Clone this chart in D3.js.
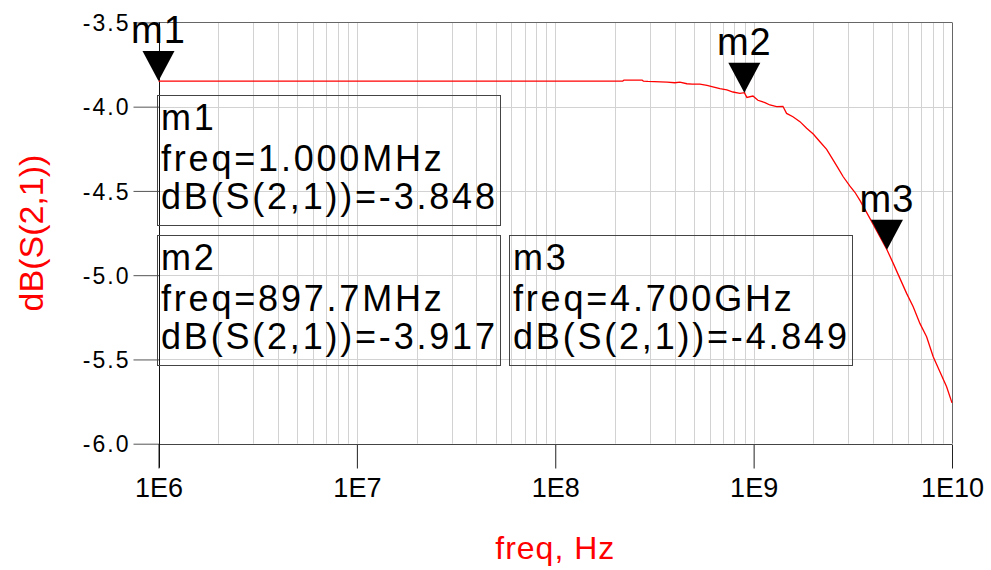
<!DOCTYPE html>
<html>
<head>
<meta charset="utf-8">
<script src="https://cdn.jsdelivr.net/npm/d3@7"></script>
<style>
  html, body { margin: 0; padding: 0; background: #fff; }
  svg { display: block; font-family: "Liberation Sans", Arial, sans-serif; }
</style>
</head>
<body>
<svg id="chart" width="991" height="570"></svg>
<script>
// ---- data ----
const freqHz = [1e6, 1.056e8, 2.19e8, 2.22e8, 2.74e8, 2.78e8, 2.93e8, 3.66e8, 4.01e8, 4.25e8,
  4.61e8, 4.89e8, 5.36e8, 5.82e8, 6.23e8, 6.76e8, 7.33e8, 7.87e8, 8.53e8, 8.977e8,
  9.25e8, 9.92e8, 1.051e9, 1.14e9, 1.208e9, 1.306e9, 1.405e9, 1.466e9, 1.578e9, 1.712e9,
  1.85e9, 1.998e9, 2.159e9, 2.334e9, 2.519e9, 2.67e9, 2.829e9, 3.058e9, 3.24e9, 3.435e9,
  3.856e9, 4.332e9, 4.7e9, 5.055e9, 5.463e9, 5.904e9, 6.374e9, 6.889e9, 7.447e9, 8.041e9,
  8.69e9, 9.394e9, 1e10];
const s21dB = [-3.848, -3.848, -3.848, -3.842, -3.842, -3.848, -3.850, -3.854, -3.858, -3.854,
  -3.864, -3.866, -3.866, -3.874, -3.882, -3.893, -3.901, -3.913, -3.921, -3.917,
  -3.945, -3.937, -3.962, -3.976, -3.990, -4.000, -3.998, -4.040, -4.060, -4.089,
  -4.128, -4.162, -4.208, -4.253, -4.317, -4.366, -4.416, -4.472, -4.508, -4.556,
  -4.663, -4.772, -4.849, -4.930, -5.019, -5.108, -5.187, -5.286, -5.365, -5.484,
  -5.573, -5.662, -5.758];

const markerNames = ["m1", "m2", "m3"];
const markerFreq = [1e6, 897.7e6, 4.7e9];
const markerDB = [-3.848, -3.917, -4.849];
const markerUnit = ["MHz", "MHz", "GHz"];
const markerUnitDiv = [1e6, 1e6, 1e9];

const yTicks = [-3.5, -4.0, -4.5, -5.0, -5.5, -6.0];
const xTicks = [1e6, 1e7, 1e8, 1e9, 1e10];
const xTickLabels = ["1E6", "1E7", "1E8", "1E9", "1E10"];
const xTitle = "freq, Hz";
const yTitle = "dB(S(2,1))";

// ---- layout ----
const L = 158.5, R = 952, T = 22.4, B = 443.7;
const svg = d3.select("#chart");
const x = d3.scaleLog().domain([1e6, 1e10]).range([L, R]);
const y = d3.scaleLinear().domain([-3.5, -6.0]).range([T, B]);
const hy = s => s.replace(/\u2212/g, "-");
const f1 = d => hy(d3.format(".1f")(d));
const f3 = d => hy(d3.format(".3f")(d));
const f4 = d3.format(".4r");

// grid
const minor = [];
for (let e = 6; e < 10; e++) for (let m = 1; m <= 9; m++) minor.push(m * Math.pow(10, e));
const grid = svg.append("g").attr("stroke", "#d2d2d2").attr("stroke-width", 1);
grid.selectAll("line.v").data(minor.filter(d => d > 1e6)).join("line")
  .attr("x1", d => Math.round(x(d)) + 0.5).attr("x2", d => Math.round(x(d)) + 0.5)
  .attr("y1", T).attr("y2", B);
grid.selectAll("line.h").data(yTicks.filter(d => d > -6 && d < -3.5)).join("line")
  .attr("class", "h")
  .attr("x1", L).attr("x2", R)
  .attr("y1", d => Math.round(y(d)) + 0.5).attr("y2", d => Math.round(y(d)) + 0.5);

// top + right borders
svg.append("line").attr("x1", L).attr("x2", R).attr("y1", Math.round(T) + 0.5).attr("y2", Math.round(T) + 0.5)
  .attr("stroke", "#666");
svg.append("line").attr("x1", Math.round(R) + 0.5).attr("x2", Math.round(R) + 0.5).attr("y1", T).attr("y2", B)
  .attr("stroke", "#666");

// y axis
const yAxis = svg.append("g").attr("transform", `translate(${Math.round(L) + 0.5},0)`)
  .call(d3.axisLeft(y).tickValues(yTicks).tickSize(26).tickPadding(0).tickFormat(f1));
yAxis.select(".domain").remove();
yAxis.selectAll(".tick line").attr("stroke", "#555");
yAxis.selectAll(".tick text").attr("x", -29).attr("dy", "0.36em")
  .attr("fill", "#000").attr("font-size", 23).attr("letter-spacing", "2px")
  .attr("font-family", "Liberation Sans, Arial, sans-serif");

// x axis
const xAxis = svg.append("g").attr("transform", `translate(0,${Math.round(B) + 0.5})`)
  .call(d3.axisBottom(x).tickValues(xTicks).tickSize(24).tickPadding(0)
    .tickFormat((d, i) => xTickLabels[i]));
xAxis.select(".domain").remove();
xAxis.selectAll(".tick line").attr("stroke", "#222");
xAxis.selectAll(".tick text").attr("y", 52).attr("dy", 0)
  .attr("fill", "#000").attr("font-size", 27)
  .attr("font-family", "Liberation Sans, Arial, sans-serif");
svg.append("line").attr("x1", L).attr("x2", R).attr("y1", Math.round(B) + 0.5).attr("y2", Math.round(B) + 0.5)
  .attr("stroke", "#444");
svg.append("line").attr("x1", Math.round(L) + 0.5).attr("x2", Math.round(L) + 0.5)
  .attr("y1", T).attr("y2", B + 24).attr("stroke", "#111");

// titles
svg.append("text").attr("x", (L + R) / 2).attr("y", 559).attr("text-anchor", "middle")
  .attr("fill", "#ff0000").attr("font-size", 32).attr("letter-spacing", "1px").text(xTitle);
svg.append("text").attr("transform", `translate(43,${(T + B) / 2}) rotate(-90)`)
  .attr("text-anchor", "middle").attr("fill", "#ff0000").attr("font-size", 34).text(yTitle);

// curve
const pts = freqHz.map((f, i) => [f, s21dB[i]]);
svg.append("path").datum(pts)
  .attr("fill", "none").attr("stroke", "#ff0000").attr("stroke-width", 1.3)
  .attr("d", d3.line().x(d => x(d[0])).y(d => y(d[1])));

// markers
const mk = svg.append("g");
markerNames.forEach((name, i) => {
  const px = x(markerFreq[i]), py = y(markerDB[i]);
  mk.append("path").attr("d", `M${px - 16},${py - 30}L${px + 16},${py - 30}L${px},${py}Z`).attr("fill", "#000");
  mk.append("text").attr("x", px).attr("y", py - 38).attr("text-anchor", "middle")
    .attr("font-size", 38).attr("letter-spacing", "1px").attr("fill", "#000").text(name);
});

// readout boxes
const boxX = [157, 157, 509];
const boxY = [95.5, 235.5, 235.5];
const boxW = 343, boxH = 130;
markerNames.forEach((name, i) => {
  const g = svg.append("g").attr("transform", `translate(${boxX[i]},${boxY[i]})`);
  g.append("rect").attr("x", 0.5).attr("y", 0).attr("width", boxW).attr("height", boxH)
    .attr("fill", "none").attr("stroke", "#444").attr("stroke-width", 1);
  const lines = [name,
    "freq=" + f4(markerFreq[i] / markerUnitDiv[i]) + markerUnit[i],
    "dB(S(2,1))=" + f3(markerDB[i])];
  const base = [34.5, 75, 113.5];
  lines.forEach((t, j) => {
    g.append("text").attr("x", 4).attr("y", base[j]).attr("font-size", 36)
      .attr("letter-spacing", "2.8px").attr("fill", "#000").text(t);
  });
});
</script>
</body>
</html>
